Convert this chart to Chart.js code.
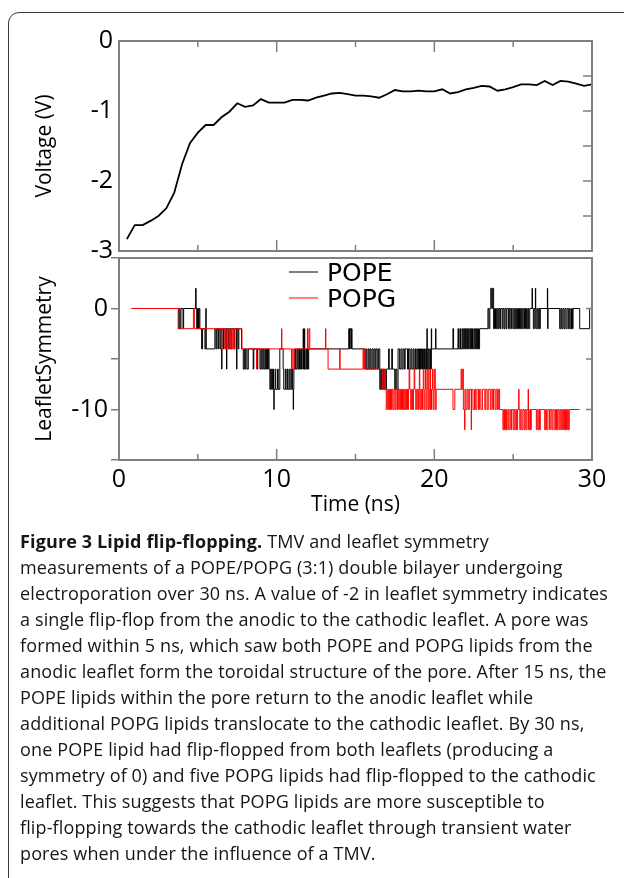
<!DOCTYPE html>
<html>
<head>
<meta charset="utf-8">
<script src="https://cdn.jsdelivr.net/npm/chart.js@4.4.0/dist/chart.umd.min.js"></script>
<style>
html, body { margin: 0; padding: 0; background: #fff; }
body { width: 624px; height: 878px; position: relative; overflow: hidden; }
#box { position: absolute; left: 8px; top: 12px; width: 700px; height: 900px; border: 1px solid #3c3c3c; border-radius: 11px; }
#voltage { position: absolute; left: 0; top: 0; }
#leaflet { position: absolute; left: 0; top: 240px; }
#caption { position: absolute; left: 20px; top: 528px; color: #161616; font-family: "Open Sans", sans-serif; font-size: 18px; line-height: 26px; white-space: nowrap; }
#caption b { font-weight: 700; }
</style>
</head>
<body>
<div id="box"></div>
<canvas id="voltage" width="624" height="272"></canvas>
<canvas id="leaflet" width="624" height="290"></canvas>
<div id="caption">
<div><b>Figure 3 Lipid flip-flopping.</b> TMV and leaflet symmetry</div>
<div>measurements of a POPE/POPG (3:1) double bilayer undergoing</div>
<div id="fitLine">electroporation over 30 ns. A value of -2 in leaflet symmetry indicates</div>
<div>a single flip-flop from the anodic to the cathodic leaflet. A pore was</div>
<div>formed within 5 ns, which saw both POPE and POPG lipids from the</div>
<div>anodic leaflet form the toroidal structure of the pore. After 15 ns, the</div>
<div>POPE lipids within the pore return to the anodic leaflet while</div>
<div>additional POPG lipids translocate to the cathodic leaflet. By 30 ns,</div>
<div>one POPE lipid had flip-flopped from both leaflets (producing a</div>
<div>symmetry of 0) and five POPG lipids had flip-flopped to the cathodic</div>
<div>leaflet. This suggests that POPG lipids are more susceptible to</div>
<div>flip-flopping towards the cathodic leaflet through transient water</div>
<div>pores when under the influence of a TMV.</div>
</div>
<script>
// transmembrane voltage (V) vs time (ns)
var voltageTime = [0.5, 1, 1.5, 2, 2.5, 3, 3.5, 4, 4.5, 5,
    5.5, 6, 6.5, 7, 7.5, 8, 8.5, 9, 9.5, 10,
    10.5, 11, 11.5, 12, 12.5, 13, 13.5, 14, 14.5, 15,
    15.5, 16, 16.5, 17, 17.5, 18, 18.5, 19, 19.5, 20,
    20.5, 21, 21.5, 22, 22.5, 23, 23.5, 24, 24.5, 25,
    25.5, 26, 26.5, 27, 27.5, 28, 28.5, 29, 29.5, 30];
var voltage = [-2.83, -2.63, -2.63, -2.57, -2.50, -2.39, -2.17, -1.76, -1.46, -1.31,
    -1.20, -1.20, -1.09, -1.01, -0.89, -0.94, -0.92, -0.83, -0.88, -0.88,
    -0.88, -0.84, -0.84, -0.85, -0.81, -0.78, -0.75, -0.74, -0.76, -0.78,
    -0.78, -0.79, -0.81, -0.76, -0.70, -0.72, -0.72, -0.71, -0.72, -0.72,
    -0.69, -0.75, -0.73, -0.69, -0.67, -0.64, -0.65, -0.71, -0.69, -0.66,
    -0.62, -0.62, -0.63, -0.57, -0.63, -0.57, -0.58, -0.61, -0.64, -0.62];

// leaflet symmetry, POPE: time of each change (ns) and the new value
var popeTime = [0.8, 3.76, 3.84, 3.87, 3.93, 4.06, 4.10, 4.86, 4.89, 4.93,
    4.98, 5.04, 5.08, 5.13, 5.24, 5.30, 5.45, 5.51, 5.53, 6.08,
    6.15, 6.20, 6.28, 6.32, 6.40, 6.46, 6.51, 6.53, 6.62, 6.66,
    6.75, 6.79, 6.82, 6.84, 6.95, 7.00, 7.10, 7.15, 7.30, 7.34,
    7.46, 7.48, 7.55, 7.60, 7.77, 7.88, 7.95, 8.00, 8.05, 8.12,
    8.20, 8.51, 8.55, 8.77, 8.80, 8.94, 9.00, 9.06, 9.12, 9.18,
    9.25, 9.30, 9.36, 9.42, 9.47, 9.52, 9.57, 9.62, 9.68, 9.74,
    9.80, 9.82, 9.84, 9.90, 9.94, 10.05, 10.10, 10.20, 10.41, 10.45,
    10.55, 10.60, 10.68, 10.72, 10.80, 10.86, 10.95, 11.00, 11.05, 11.07,
    11.09, 11.15, 11.20, 11.28, 11.34, 11.40, 11.45, 11.52, 11.58, 11.62,
    11.68, 11.70, 11.76, 11.78, 11.85, 11.90, 11.95, 12.00, 12.03, 14.57,
    14.62, 14.66, 14.72, 14.75, 14.78, 15.60, 15.66, 15.72, 15.80, 15.86,
    15.92, 15.98, 16.05, 16.12, 16.18, 16.25, 16.30, 16.38, 16.45, 16.54,
    16.60, 16.65, 16.72, 16.78, 16.85, 16.90, 16.96, 17.10, 17.14, 17.30,
    17.34, 17.49, 17.55, 17.62, 17.70, 17.80, 17.88, 17.95, 18.02, 18.10,
    18.15, 18.30, 18.36, 18.45, 18.52, 18.58, 18.66, 18.72, 18.80, 18.85,
    18.92, 19.00, 19.06, 19.12, 19.18, 19.25, 19.32, 19.38, 19.45, 19.50,
    19.53, 19.55, 19.62, 19.68, 19.75, 19.78, 19.81, 19.83, 20.08, 20.10,
    21.18, 21.22, 21.50, 21.54, 21.62, 21.66, 21.75, 21.80, 21.86, 21.92,
    21.98, 22.05, 22.10, 22.16, 22.22, 22.30, 22.36, 22.42, 22.50, 22.56,
    22.62, 22.68, 22.74, 22.80, 22.87, 23.40, 23.46, 23.52, 23.58, 23.64,
    23.68, 23.76, 23.82, 23.88, 23.95, 24.02, 24.08, 24.15, 24.20, 24.30,
    24.35, 24.42, 24.48, 24.55, 24.60, 24.70, 24.76, 24.85, 24.90, 24.98,
    25.04, 25.10, 25.16, 25.22, 25.28, 25.34, 25.40, 25.46, 25.52, 25.58,
    25.64, 25.72, 25.78, 25.85, 25.92, 25.98, 26.05, 26.20, 26.22, 26.28,
    26.34, 26.41, 26.43, 26.50, 26.56, 26.62, 26.68, 26.72, 27.17, 27.19,
    27.21, 27.95, 28.02, 28.08, 28.15, 28.22, 28.28, 28.35, 28.42, 28.50,
    28.56, 28.62, 28.70, 28.76, 28.80, 29.22, 29.85, 29.96];
var popeSym = [0, -2, 0, -2, 0, -2, 0, 2, 0, -2,
    0, -2, 0, -2, -4, -2, -4, 0, -4, -2,
    -4, -2, -4, -2, -4, -2, -6, -2, -4, -2,
    -4, -2, -6, -2, -4, -2, -4, -2, -4, -2,
    -6, -2, -4, -2, -4, -6, -4, -6, -4, -6,
    -4, -6, -4, -6, -4, -6, -4, -6, -4, -6,
    -4, -6, -4, -6, -4, -6, -8, -6, -8, -6,
    -8, -10, -8, -6, -8, -6, -8, -4, -6, -8,
    -6, -8, -6, -8, -6, -8, -6, -8, -10, -8,
    -6, -4, -6, -4, -6, -4, -6, -4, -6, -4,
    -2, -6, -2, -6, -4, -6, -4, -6, -4, -2,
    -4, -2, -4, -2, -4, -6, -4, -6, -4, -6,
    -4, -6, -4, -6, -4, -6, -4, -6, -4, -8,
    -6, -8, -6, -8, -6, -8, -6, -4, -6, -4,
    -6, -8, -6, -8, -4, -6, -4, -6, -4, -6,
    -4, -6, -4, -6, -4, -6, -4, -6, -4, -6,
    -4, -6, -4, -6, -4, -6, -4, -6, -4, -6,
    -2, -6, -4, -6, -4, -6, -2, -4, -2, -4,
    -2, -4, -2, -4, -2, -4, -2, -4, -2, -4,
    -2, -4, -2, -4, -2, -4, -2, -4, -2, -4,
    -2, -4, -2, -4, -2, 0, -2, 0, 2, 0,
    2, -2, 0, -2, 0, -2, 0, -2, 0, -2,
    0, -2, 0, -2, 0, -2, 0, -2, 0, -2,
    0, -2, 0, -2, 0, -2, 0, -2, 0, -2,
    0, -2, 0, -2, 0, -2, 0, 2, 0, -2,
    0, 2, -2, 0, -2, 0, -2, 0, 2, -2,
    0, -2, 0, -2, 0, -2, 0, -2, 0, -2,
    0, -2, 0, -2, 0, -2, 0, 0];

// leaflet symmetry, POPG
var popgTime = [0.8, 3.82, 4.72, 4.78, 6.50, 6.52, 6.72, 6.76, 6.80, 6.86,
    6.92, 7.00, 7.05, 7.12, 7.18, 7.25, 7.30, 7.35, 7.80, 8.72,
    8.74, 10.31, 10.33, 10.94, 10.98, 11.05, 11.12, 11.95, 11.98, 12.05,
    12.10, 13.10, 13.12, 13.26, 14.00, 14.02, 15.48, 15.52, 15.56, 15.60,
    16.68, 16.74, 16.80, 16.86, 16.90, 16.95, 17.00, 17.05, 17.10, 17.16,
    17.22, 17.28, 17.32, 17.38, 17.45, 17.52, 17.58, 17.66, 17.72, 17.80,
    17.85, 17.92, 17.98, 18.05, 18.12, 18.18, 18.24, 18.30, 18.36, 18.40,
    18.44, 18.50, 18.56, 18.62, 18.68, 18.72, 18.76, 18.82, 18.88, 18.95,
    19.00, 19.05, 19.08, 19.14, 19.20, 19.25, 19.30, 19.34, 19.40, 19.44,
    19.48, 19.54, 19.58, 19.62, 19.68, 19.72, 19.76, 19.82, 19.88, 19.92,
    19.98, 20.02, 20.06, 20.12, 21.18, 21.30, 21.70, 21.74, 21.80, 21.84,
    21.92, 21.94, 22.00, 22.08, 22.15, 22.22, 22.34, 22.36, 22.45, 22.55,
    22.62, 22.70, 22.80, 22.86, 22.95, 23.05, 23.20, 23.26, 23.35, 23.42,
    23.55, 23.60, 23.70, 23.75, 23.85, 23.92, 24.00, 24.06, 24.14, 24.35,
    24.40, 24.45, 24.52, 24.58, 24.66, 24.72, 24.80, 24.86, 24.90, 25.00,
    25.06, 25.12, 25.18, 25.22, 25.28, 25.35, 25.37, 25.42, 25.48, 25.55,
    25.62, 25.70, 25.76, 25.82, 25.88, 25.95, 25.97, 26.05, 26.10, 26.15,
    26.47, 26.52, 26.58, 26.64, 26.68, 26.72, 27.00, 27.06, 27.12, 27.20,
    27.30, 27.35, 27.45, 27.52, 27.60, 27.68, 27.75, 27.82, 27.90, 27.96,
    28.02, 28.08, 28.14, 28.20, 28.26, 28.32, 28.38, 28.44, 28.50, 28.56,
    29.22];
var popgSym = [0, -2, 0, -2, -4, -2, -4, -2, -4, -2,
    -4, -2, -4, -2, -4, -2, -4, -2, -4, -6,
    -4, -2, -4, -6, -4, -6, -4, -2, -4, -2,
    -4, -2, -4, -6, -4, -6, -4, -6, -4, -6,
    -8, -6, -8, -6, -8, -10, -8, -10, -8, -10,
    -8, -10, -8, -10, -8, -10, -8, -10, -8, -10,
    -8, -10, -8, -10, -8, -10, -8, -10, -8, -6,
    -8, -10, -8, -10, -8, -6, -8, -10, -8, -10,
    -8, -6, -10, -8, -10, -8, -6, -10, -8, -6,
    -10, -8, -6, -10, -8, -6, -10, -8, -6, -10,
    -8, -6, -10, -8, -10, -8, -6, -8, -6, -10,
    -12, -8, -10, -8, -10, -8, -12, -8, -10, -8,
    -10, -8, -10, -8, -10, -8, -10, -8, -10, -8,
    -10, -8, -10, -8, -10, -8, -10, -8, -10, -12,
    -10, -12, -10, -12, -10, -12, -10, -12, -10, -12,
    -10, -12, -10, -12, -10, -8, -10, -12, -10, -12,
    -10, -12, -10, -12, -10, -8, -12, -10, -12, -10,
    -12, -10, -12, -10, -12, -10, -12, -10, -12, -10,
    -12, -10, -12, -10, -12, -10, -12, -10, -12, -10,
    -12, -10, -12, -10, -12, -10, -12, -10, -12, -10,
    -10];

var seriesNames = ['POPE', 'POPG'];
var seriesColors = ['#000000', '#ff0000'];

function toPoints(xs, ys) {
    return xs.map(function(x, i) { return {x: x, y: ys[i]}; });
}

var GREY = '#7f7f7f';
var TICK_FONT = {family: '"Open Sans", sans-serif', size: 25};
var TITLE_FONT = {family: '"Open Sans", sans-serif', size: 21};

// box round the plot area, with inward tick marks
var framePlugin = {
    id: 'frame',
    afterDatasetsDraw: function(chart, args, opts) {
        var a = chart.chartArea, ctx = chart.ctx;
        var xs = chart.scales.x, ys = chart.scales.y;
        ctx.save();
        ctx.strokeStyle = GREY;
        ctx.lineWidth = 1.5;
        ctx.beginPath();
        xs.ticks.forEach(function(t) {
            var x = xs.getPixelForValue(t.value);
            var len = t.value % 10 === 0 ? 11 : 6;
            if (opts.top) { ctx.moveTo(x, a.top); ctx.lineTo(x, a.top + len); }
            if (opts.bottom) { ctx.moveTo(x, a.bottom); ctx.lineTo(x, a.bottom - len); }
        });
        ys.ticks.forEach(function(t) {
            var y = ys.getPixelForValue(t.value);
            ctx.moveTo(a.right, y);
            ctx.lineTo(a.right - opts.right, y);
        });
        ctx.stroke();
        ctx.lineWidth = 2;
        ctx.strokeRect(a.left, a.top, a.right - a.left, a.bottom - a.top);
        ctx.restore();
    }
};

// legend drawn inside the plot
var insideLegend = {
    id: 'insideLegend',
    afterDraw: function(chart, args, opts) {
        if (!opts.show) return;
        var ctx = chart.ctx;
        ctx.save();
        ctx.font = opts.font;
        ctx.textBaseline = 'middle';
        chart.data.datasets.forEach(function(ds, i) {
            var y = opts.y + i * opts.rowHeight;
            ctx.strokeStyle = ds.borderColor;
            ctx.lineWidth = 1;
            ctx.beginPath();
            ctx.moveTo(opts.x, y);
            ctx.lineTo(opts.x + opts.lineLength, y);
            ctx.stroke();
            ctx.fillStyle = '#000';
            ctx.fillText(ds.label, opts.x + opts.lineLength + opts.gap, y + 2);
        });
        ctx.restore();
    }
};

var voltageChart = new Chart(document.getElementById('voltage').getContext('2d'), {
    type: 'line',
    data: {
        datasets: [{
            label: 'Voltage',
            data: toPoints(voltageTime, voltage),
            borderColor: '#000',
            borderWidth: 1.8,
            pointRadius: 0,
            tension: 0
        }]
    },
    options: {
        responsive: false,
        animation: false,
        layout: { padding: {top: 41, right: 32, bottom: 18, left: 0} },
        plugins: {
            legend: { display: false },
            tooltip: { enabled: false },
            frame: { top: true, bottom: true, right: 9 },
            insideLegend: { show: false }
        },
        scales: {
            x: {
                type: 'linear', min: 0, max: 30,
                ticks: { display: false, stepSize: 5 },
                grid: { display: false },
                border: { display: false },
                afterFit: function(s) { s.height = 0; }
            },
            y: {
                min: -3, max: 0,
                ticks: {
                    stepSize: 0.5,
                    padding: 6,
                    color: '#000',
                    font: TICK_FONT,
                    callback: function(v) { return Number.isInteger(v) ? String(v) : ''; }
                },
                grid: { display: false, drawTicks: false },
                border: { display: false },
                title: { display: true, text: 'Voltage (V)', color: '#000', font: TITLE_FONT, padding: {top: 32} },
                afterFit: function(s) { s.width = 119; }
            }
        }
    },
    plugins: [framePlugin, insideLegend]
});

var leafletChart = new Chart(document.getElementById('leaflet').getContext('2d'), {
    type: 'line',
    data: {
        datasets: [{
            label: seriesNames[0],
            data: toPoints(popeTime, popeSym),
            borderColor: seriesColors[0],
            borderWidth: 1,
            pointRadius: 0,
            stepped: true,
            order: 1
        }, {
            label: seriesNames[1],
            data: toPoints(popgTime, popgSym),
            borderColor: seriesColors[1],
            borderWidth: 1,
            pointRadius: 0,
            stepped: true,
            order: 0
        }]
    },
    options: {
        responsive: false,
        animation: false,
        layout: { padding: {top: 16, right: 32, bottom: 0, left: 0} },
        plugins: {
            legend: { display: false },
            tooltip: { enabled: false },
            frame: { top: false, bottom: true, right: 6 },
            insideLegend: { show: true, x: 289, y: 32, rowHeight: 26, lineLength: 29, gap: 9, font: '25px "DejaVu Sans"' }
        },
        scales: {
            x: {
                type: 'linear', min: 0, max: 30,
                ticks: {
                    stepSize: 5,
                    autoSkip: false,
                    maxRotation: 0,
                    padding: 5,
                    color: '#000',
                    font: TICK_FONT,
                    callback: function(v) { return v % 10 === 0 ? String(v) : ''; }
                },
                grid: { display: false, drawTicks: false },
                border: { display: false },
                title: { display: true, text: 'Time (ns)', color: '#000', font: TITLE_FONT, padding: {top: 0, bottom: 12} },
                afterFit: function(s) { s.height = 70; }
            },
            y: {
                min: -15, max: 5,
                ticks: {
                    stepSize: 2.5,
                    padding: 3,
                    color: '#000',
                    font: TICK_FONT,
                    callback: function(v) { return v % 10 === 0 ? String(v) : ''; }
                },
                grid: { display: true, drawOnChartArea: false, drawTicks: true, tickLength: 8, color: GREY, lineWidth: 1.5 },
                border: { display: false },
                title: { display: true, text: 'LeafletSymmetry', color: '#000', font: TITLE_FONT, padding: {top: 32} },
                afterFit: function(s) { s.width = 119; }
            }
        }
    },
    plugins: [framePlugin, insideLegend]
});

// squeeze the caption so its widest line spans the same width as the original
var fitLine = document.getElementById('fitLine');
var range = document.createRange();
range.selectNodeContents(fitLine);
var w = range.getBoundingClientRect().width;
document.getElementById('caption').style.letterSpacing = ((588 - w) / fitLine.textContent.length) + 'px';
</script>
</body>
</html>
